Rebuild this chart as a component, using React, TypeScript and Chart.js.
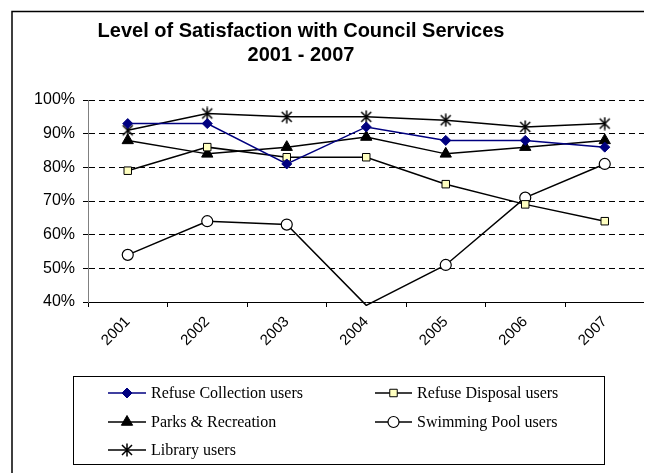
import React, { useEffect, useRef } from 'react';
import { Chart, registerables } from 'chart.js';
import { drawPoint } from 'chart.js/helpers';

Chart.register(...registerables);

const years = ['2001', '2002', '2003', '2004', '2005', '2006', '2007'];
const refuseCollection = [93, 93, 81, 92, 88, 88, 86];
const refuseDisposal = [79, 86, 83, 83, 75, 69, 64];
const parksRecreation = [88, 84, 86, 89, 84, 86, 88];
const swimmingPool = [54, 64, 63, 39, 51, 71, 81];
const library = [91, 96, 95, 95, 94, 92, 93];
const seriesNames = [
  'Refuse Collection users',
  'Refuse Disposal users',
  'Parks & Recreation',
  'Swimming Pool users',
  'Library users',
];
const titleLines = ['Level of Satisfaction with Council Services', '2001 - 2007'];
const yMin = 40;
const yMax = 100;
const yStep = 10;

const SANS = '"Liberation Sans", Arial, sans-serif';
const SERIF = '"Liberation Serif", "Times New Roman", serif';

function makeStar(): HTMLCanvasElement {
  const c = document.createElement('canvas');
  c.width = 14;
  c.height = 14;
  const g = c.getContext('2d')!;
  g.strokeStyle = '#000';
  g.lineWidth = 1.5;
  g.beginPath();
  g.moveTo(7, 0.5);
  g.lineTo(7, 13.5);
  g.moveTo(2, 2);
  g.lineTo(12, 12);
  g.moveTo(12, 2);
  g.lineTo(2, 12);
  g.stroke();
  return c;
}

const framePlugin = {
  id: 'framePlugin',
  beforeDraw(chart: any) {
    const ctx = chart.ctx;
    ctx.save();
    ctx.fillStyle = '#fff';
    ctx.fillRect(0, 0, chart.width, chart.height);
    ctx.strokeStyle = '#000';
    ctx.lineWidth = 1.5;
    ctx.strokeRect(4, 3.5, 638, chart.height + 20);
    ctx.restore();
  },
  afterDraw(chart: any) {
    const ctx = chart.ctx;
    ctx.save();
    // title
    ctx.fillStyle = '#000';
    ctx.font = 'bold 20px ' + SANS;
    ctx.textAlign = 'center';
    ctx.textBaseline = 'middle';
    ctx.fillText(titleLines[0], 293, 23);
    ctx.fillText(titleLines[1], 293, 47);

    // legend box
    ctx.strokeStyle = '#000';
    ctx.lineWidth = 1;
    ctx.strokeRect(65.5, 368.5, 531, 88);

    const cols = [
      { x0: 100, x1: 138, tx: 143 },
      { x0: 367, x1: 404, tx: 409 },
    ];
    const rows = [385, 414, 442];
    ctx.font = '16px ' + SERIF;
    ctx.textAlign = 'left';
    ctx.textBaseline = 'middle';
    chart.data.datasets.forEach((ds: any, i: number) => {
      const col = cols[i % 2];
      const y = rows[Math.floor(i / 2)];
      ctx.save();
      ctx.strokeStyle = ds.borderColor;
      ctx.lineWidth = ds.borderWidth;
      ctx.beginPath();
      ctx.moveTo(col.x0, y);
      ctx.lineTo(col.x1, y);
      ctx.stroke();
      ctx.fillStyle = ds.pointBackgroundColor;
      ctx.strokeStyle = ds.pointBorderColor;
      ctx.lineWidth = ds.pointBorderWidth;
      drawPoint(
        ctx,
        {
          pointStyle: ds.pointStyle,
          rotation: 0,
          radius: typeof ds.pointRadius === 'number' ? ds.pointRadius : 5.5,
          borderWidth: ds.pointBorderWidth,
        } as any,
        (col.x0 + col.x1) / 2,
        y
      );
      ctx.restore();
      ctx.fillStyle = '#000';
      ctx.fillText(ds.label, col.tx, y + 1);
    });
    ctx.restore();
  },
};

export default function App() {
  const ref = useRef<HTMLCanvasElement | null>(null);
  useEffect(() => {
    const canvas = ref.current!;
    const star = makeStar();
    const chart = new Chart(canvas, {
      type: 'line',
      data: {
        labels: years,
        datasets: [
          {
            label: seriesNames[0],
            data: refuseCollection,
            borderColor: '#000080',
            borderWidth: 1.5,
            pointStyle: 'rectRot',
            pointRadius: 5,
            pointBackgroundColor: '#000080',
            pointBorderColor: '#000080',
            pointBorderWidth: 1,
          },
          {
            label: seriesNames[1],
            data: refuseDisposal,
            borderColor: '#000',
            borderWidth: 1.5,
            pointStyle: 'rect',
            pointRadius: 5.3,
            pointBackgroundColor: '#FFFFC0',
            pointBorderColor: '#000',
            pointBorderWidth: 1,
          },
          {
            label: seriesNames[2],
            data: parksRecreation,
            borderColor: '#000',
            borderWidth: 1.5,
            pointStyle: 'triangle',
            pointRadius: 6.5,
            pointBackgroundColor: '#000',
            pointBorderColor: '#000',
            pointBorderWidth: 1,
          },
          {
            label: seriesNames[3],
            data: swimmingPool,
            borderColor: '#000',
            borderWidth: 1.5,
            pointStyle: 'circle',
            pointRadius: (c: any) => (c.parsed && c.parsed.y < yMin ? 0 : 5.5),
            pointBackgroundColor: '#fff',
            pointBorderColor: '#000',
            pointBorderWidth: 1.2,
            clip: { left: 10, top: 10, right: 10, bottom: 4 },
          } as any,
          {
            label: seriesNames[4],
            data: library,
            borderColor: '#000',
            borderWidth: 1.5,
            pointStyle: star,
            pointRadius: 6,
            pointBackgroundColor: '#000',
            pointBorderColor: '#000',
            pointBorderWidth: 1,
          },
        ],
      },
      options: {
        animation: false,
        responsive: false,
        layout: { padding: { top: 92, right: 6, left: 0, bottom: 0 } },
        plugins: {
          legend: { display: false },
          title: { display: false },
          tooltip: { enabled: false },
        },
        scales: {
          x: {
            offset: true,
            grid: {
              offset: true,
              drawOnChartArea: false,
              drawTicks: true,
              tickLength: 5,
              color: '#000',
            },
            border: { color: '#000', width: 1 },
            ticks: {
              minRotation: 45,
              maxRotation: 45,
              color: '#000',
              padding: 6,
              font: { family: SANS, size: 15 },
            },
            afterFit: (s: any) => {
              s.height = 171;
            },
          },
          y: {
            min: yMin,
            max: yMax,
            ticks: {
              stepSize: yStep,
              color: '#000',
              padding: 8,
              font: { family: SANS, size: 16 },
              callback: (v: any) => v + '%',
            },
            grid: {
              color: '#000',
              tickLength: 5,
              tickBorderDash: [],
            },
            border: { dash: [6, 4], color: '#808080', width: 1 },
            afterFit: (s: any) => {
              s.width = 80;
            },
          },
        },
      },
      plugins: [framePlugin],
    } as any);
    return () => chart.destroy();
  }, []);
  return <canvas ref={ref} width={644} height={465} style={{ display: 'block' }} />;
}
